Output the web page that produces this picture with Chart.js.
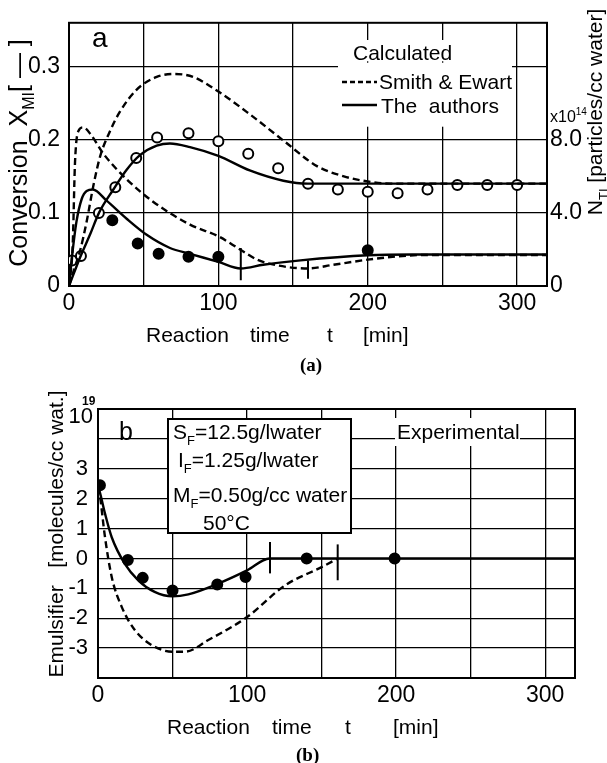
<!DOCTYPE html>
<html>
<head>
<meta charset="utf-8">
<script src="https://cdn.jsdelivr.net/npm/chart.js@4.4.1/dist/chart.umd.min.js"></script>
<style>
  html, body { margin: 0; padding: 0; background: #fff; }
  #wrap { position: relative; width: 607px; height: 763px; }
  canvas { position: absolute; left: 0; }
  #ca { top: 0; }
  #cb { top: 380px; }
</style>
</head>
<body>
<div id="wrap">
  <canvas id="ca" width="607" height="380"></canvas>
  <canvas id="cb" width="607" height="383"></canvas>
</div>
<script>
// ---- panel (a): conversion X (left axis) and particle number N x1e14 (right axis)
const TIME_LABELS = [0, 100, 200, 300];

const seConvT = [0, 3, 7.4, 11.8, 16.3, 20.8, 27.5, 34, 45, 58.7, 71, 83, 100, 121, 143.5, 166, 184, 200, 215, 320];
const seConvX = [0, 0.02, 0.048, 0.088, 0.137, 0.177, 0.212, 0.238, 0.268, 0.286, 0.29, 0.286, 0.266, 0.235, 0.199, 0.164, 0.15, 0.143, 0.14, 0.14];

const auConvT = [0, 7.4, 14, 20.3, 29.7, 38.6, 47.5, 58.7, 67.6, 81, 100, 121, 143.5, 160, 180, 320];
const auConvX = [0, 0.039, 0.07, 0.101, 0.132, 0.159, 0.179, 0.192, 0.195, 0.19, 0.178, 0.158, 0.144, 0.14, 0.14, 0.14];

const seNumT = [0, 2.5, 4, 6.3, 9.6, 15, 23, 38.6, 56.5, 81, 100, 114.5, 126, 140, 160, 177, 200, 220, 240, 320];
const seNumN = [0, 2.28, 6.72, 8.48, 8.68, 8.24, 7.24, 5.84, 4.6, 3.36, 2.72, 2.0, 1.44, 1.12, 0.96, 1.16, 1.44, 1.62, 1.7, 1.7];

const auNumT = [0, 2, 5, 8.5, 11.8, 16, 25, 38.6, 52, 67.6, 81, 100, 115, 130, 155, 200, 230, 320];
const auNumN = [0, 1.6, 3.52, 4.76, 5.2, 5.28, 4.68, 3.68, 2.8, 2.08, 1.76, 1.32, 0.96, 1.16, 1.4, 1.68, 1.72, 1.72];

const expConvT = [2, 8, 20, 31, 45, 59, 80, 100, 120, 140, 160, 180, 200, 220, 240, 260, 280, 300];
const expConvX = [0.035, 0.041, 0.1, 0.135, 0.175, 0.203, 0.209, 0.198, 0.181, 0.161, 0.14, 0.132, 0.129, 0.127, 0.132, 0.138, 0.138, 0.138];

const expNumT = [29, 46, 60, 80, 100, 200];
const expNumN = [3.6, 2.32, 1.76, 1.6, 1.6, 1.96];

// end-of-particle-formation marks: [time, lower, upper] in N units
const aMarkAu = [115, 0.32, 2.08];
const aMarkSe = [160, 0.4, 1.4];

// ---- panel (b): emulsifier x1e19 molecules/cc water
const bAuT = [0, 1.3, 4.7, 9.2, 18, 27, 38, 50, 60.6, 80.7, 100, 115, 320];
const bAuE = [2.4, 2.2, 1.5, 0.71, -0.18, -0.73, -1.12, -1.27, -1.2, -0.84, -0.4, 0, 0];

const bSeT = [0, 1, 4.7, 9.2, 15.9, 24.8, 36, 50, 58.4, 74, 100, 125.5, 150, 161];
const bSeE = [2.4, 2.2, 0.71, -0.62, -1.62, -2.4, -2.9, -3.12, -3.12, -2.73, -1.96, -0.9, -0.29, 0];

const bExpT = [1.3, 20, 30, 50, 80, 99, 140, 199];
const bExpE = [2.45, -0.05, -0.65, -1.07, -0.87, -0.62, 0, 0];

const bMarkAu = [115.4, -0.5, 0.55];
const bMarkSe = [160.8, -0.73, 0.47];

const B_TICK_LABELS = [-3, -2, -1, 0, 1, 2, 3];

// ----
const FONT = "'Liberation Sans', Arial, sans-serif";
const SERIF = "'Liberation Serif', 'Times New Roman', serif";
Chart.defaults.font.family = FONT;
Chart.defaults.color = '#000';

const pts = (t, v) => t.map((x, i) => ({ x, y: v[i] }));
const mark = m => [{ x: m[0], y: m[1] }, { x: m[0], y: m[2] }];

function curve(data, dashed, axis) {
  return {
    data, yAxisID: axis, showLine: true, borderColor: '#000', borderWidth: 2.4,
    borderDash: dashed ? [7, 4] : [], pointRadius: 0, cubicInterpolationMode: 'monotone', fill: false,
  };
}
function dots(data, open, axis) {
  return {
    data, yAxisID: axis, showLine: false, pointRadius: 5, pointHoverRadius: 5,
    pointBorderWidth: 2, pointBorderColor: '#000', pointBackgroundColor: open ? '#fff' : '#000',
  };
}
function tickMark(data, axis) {
  return { data, yAxisID: axis, showLine: true, borderColor: '#000', borderWidth: 2, pointRadius: 0 };
}

// text with sub/superscripts: segs = [[text, 0 normal | 1 sub | 2 sup], ...]
function segText(ctx, segs, x, y, size, align) {
  const f = k => `${k ? Math.round(size * 0.62) : size}px ${FONT}`;
  let w = 0;
  segs.forEach(([s, k]) => { ctx.font = f(k); w += ctx.measureText(s).width; });
  let cx = align === 'center' ? x - w / 2 : align === 'right' ? x - w : x;
  ctx.textAlign = 'left';
  ctx.textBaseline = 'alphabetic';
  segs.forEach(([s, k]) => {
    ctx.font = f(k);
    ctx.fillText(s, cx, y + (k === 1 ? size * 0.28 : k === 2 ? -size * 0.45 : 0));
    cx += ctx.measureText(s).width;
  });
}
function rotText(ctx, segs, x, y, size) {
  ctx.save();
  ctx.translate(x, y);
  ctx.rotate(-Math.PI / 2);
  segText(ctx, segs, 0, 0, size, 'center');
  ctx.restore();
}
function plain(ctx, s, x, y, font) {
  ctx.font = font;
  ctx.textAlign = 'left';
  ctx.textBaseline = 'alphabetic';
  ctx.fillText(s, x, y);
}

const gridOpts = { color: '#000', lineWidth: 1.3, drawTicks: false };
const xScale = height => ({
  type: 'linear', min: 0, max: 320,
  grid: gridOpts, border: { display: false },
  ticks: {
    stepSize: 50, includeBounds: false, padding: 4, font: { size: 23 },
    maxRotation: 0, autoSkip: false,
    callback: v => (TIME_LABELS.includes(v) ? String(v) : ''),
  },
  afterFit: s => { s.height = height; },
});

// ---------------- panel a
const frameA = {
  id: 'frameA',
  beforeDatasetsDraw(chart) {
    const { ctx, chartArea: a } = chart;
    ctx.save();
    ctx.fillStyle = '#fff';
    ctx.fillRect(350, 40, 106, 21.3);
    ctx.fillRect(338, 62.7, 174, 64);
    ctx.strokeStyle = '#000';
    ctx.lineWidth = 2;
    ctx.strokeRect(a.left, a.top, a.right - a.left, a.bottom - a.top);
    ctx.restore();
  },
  afterDraw(chart) {
    const ctx = chart.ctx;
    ctx.save();
    ctx.fillStyle = '#000';
    ctx.strokeStyle = '#000';
    plain(ctx, 'a', 92, 47, `28px ${FONT}`);
    plain(ctx, 'Calculated', 353, 60, `21px ${FONT}`);
    ctx.lineWidth = 2.4;
    ctx.setLineDash([5, 3]);
    ctx.beginPath(); ctx.moveTo(342, 82); ctx.lineTo(377, 82); ctx.stroke();
    ctx.setLineDash([]);
    ctx.beginPath(); ctx.moveTo(342, 105); ctx.lineTo(377, 105); ctx.stroke();
    plain(ctx, 'Smith & Ewart', 379, 89, `21px ${FONT}`);
    plain(ctx, 'The  authors', 381, 113, `21px ${FONT}`);
    segText(ctx, [['x10', 0], ['14', 2]], 550, 122, 16, 'left');
    rotText(ctx, [['Conversion  X', 0], ['MI', 1], ['[ \u2014 ]', 0]], 27, 153, 25);
    rotText(ctx, [['N', 0], ['TI', 1], [' [particles/cc water]', 0]], 602, 112, 21);
    plain(ctx, 'Reaction', 146, 342, `21px ${FONT}`);
    plain(ctx, 'time', 250, 342, `21px ${FONT}`);
    plain(ctx, 't', 327, 342, `21px ${FONT}`);
    plain(ctx, '[min]', 363, 342, `21px ${FONT}`);
    plain(ctx, '(a)', 300, 371, `bold 19px ${SERIF}`);
    ctx.restore();
  },
};

new Chart(document.getElementById('ca'), {
  type: 'scatter',
  data: {
    datasets: [
      curve(pts(seConvT, seConvX), true, 'y'),
      curve(pts(auConvT, auConvX), false, 'y'),
      curve(pts(seNumT, seNumN), true, 'y1'),
      curve(pts(auNumT, auNumN), false, 'y1'),
      tickMark(mark(aMarkAu), 'y1'),
      tickMark(mark(aMarkSe), 'y1'),
      dots(pts(expConvT, expConvX), true, 'y'),
      dots(pts(expNumT, expNumN), false, 'y1'),
    ],
  },
  options: {
    responsive: false, animation: false, events: [],
    layout: { padding: { top: 17, left: 0, right: 0, bottom: 0 } },
    plugins: { legend: { display: false }, tooltip: { enabled: false } },
    scales: {
      x: xScale(94),
      y: {
        type: 'linear', position: 'left', min: 0, max: 0.36,
        grid: gridOpts, border: { display: false },
        ticks: {
          stepSize: 0.1, includeBounds: false, padding: 9, font: { size: 23 }, autoSkip: false,
          callback: v => (v === 0 ? '0' : v.toFixed(1)),
        },
        afterFit: s => { s.width = 69; },
      },
      y1: {
        type: 'linear', position: 'right', min: 0, max: 14.4,
        grid: { display: false, drawTicks: false }, border: { display: false },
        ticks: {
          stepSize: 4, includeBounds: false, padding: 3, font: { size: 23 }, autoSkip: false,
          callback: v => (v === 0 ? '0' : v <= 8 ? v.toFixed(1) : ''),
        },
        afterFit: s => { s.width = 60; },
      },
    },
  },
  plugins: [frameA],
});

// ---------------- panel b
const frameB = {
  id: 'frameB',
  beforeDatasetsDraw(chart) {
    const { ctx, chartArea: a } = chart;
    ctx.save();
    ctx.fillStyle = '#fff';
    ctx.fillRect(395, 38, 125, 28);
    ctx.fillRect(168, 39, 183, 114);
    ctx.strokeStyle = '#000';
    ctx.lineWidth = 2;
    ctx.strokeRect(168, 39, 183, 114);
    ctx.strokeRect(a.left, a.top, a.right - a.left, a.bottom - a.top);
    ctx.restore();
  },
  afterDraw(chart) {
    const ctx = chart.ctx;
    ctx.save();
    ctx.fillStyle = '#000';
    segText(ctx, [['10', 0]], 93, 43, 22, 'right');
    plain(ctx, '19', 82, 25, `bold 12px ${FONT}`);
    plain(ctx, 'b', 119, 60, `25px ${FONT}`);
    segText(ctx, [['S', 0], ['F', 1], ['=12.5g/lwater', 0]], 173, 59, 21, 'left');
    segText(ctx, [['I', 0], ['F', 1], ['=1.25g/lwater', 0]], 178, 87, 21, 'left');
    segText(ctx, [['M', 0], ['F', 1], ['=0.50g/cc water', 0]], 173, 122, 21, 'left');
    plain(ctx, '50\u00b0C', 203, 150, `21px ${FONT}`);
    plain(ctx, 'Experimental', 397, 59, `21px ${FONT}`);
    rotText(ctx, [['Emulsifier   [molecules/cc wat.]', 0]], 63, 154, 21);
    plain(ctx, 'Reaction', 167, 354, `21px ${FONT}`);
    plain(ctx, 'time', 272, 354, `21px ${FONT}`);
    plain(ctx, 't', 345, 354, `21px ${FONT}`);
    plain(ctx, '[min]', 393, 354, `21px ${FONT}`);
    plain(ctx, '(b)', 296, 381, `bold 19px ${SERIF}`);
    ctx.restore();
  },
};

new Chart(document.getElementById('cb'), {
  type: 'scatter',
  data: {
    datasets: [
      curve(pts(bAuT, bAuE), false, 'y'),
      curve(pts(bSeT, bSeE), true, 'y'),
      tickMark(mark(bMarkAu), 'y'),
      tickMark(mark(bMarkSe), 'y'),
      dots(pts(bExpT, bExpE), false, 'y'),
    ],
  },
  options: {
    responsive: false, animation: false, events: [],
    layout: { padding: { top: 29, left: 0, right: 32, bottom: 0 } },
    plugins: { legend: { display: false }, tooltip: { enabled: false } },
    scales: {
      x: xScale(85),
      y: {
        type: 'linear', position: 'left', min: -4, max: 5,
        grid: gridOpts, border: { display: false },
        ticks: {
          stepSize: 1, includeBounds: false, padding: 10, font: { size: 22 }, autoSkip: false,
          callback: v => (B_TICK_LABELS.includes(v) ? String(v) : ''),
        },
        afterFit: s => { s.width = 98; },
      },
    },
  },
  plugins: [frameB],
});
</script>
</body>
</html>
